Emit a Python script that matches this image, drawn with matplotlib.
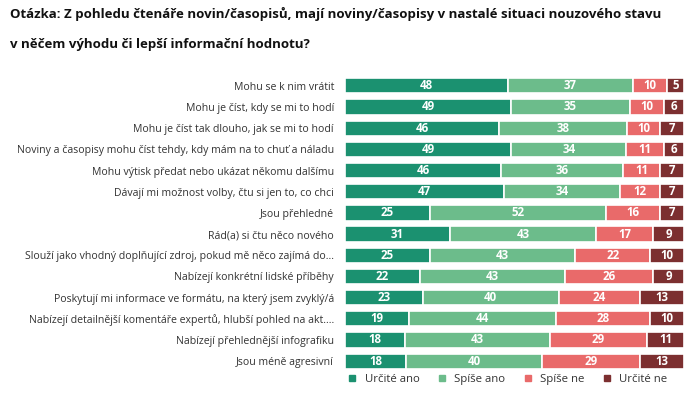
import numpy as np
import matplotlib
matplotlib.use("Agg")
import matplotlib.pyplot as plt
from matplotlib.lines import Line2D

plt.rcParams["font.family"] = ["Open Sans", "DejaVu Sans"]

categories = [
    "Mohu se k nim vrátit",
    "Mohu je číst, kdy se mi to hodí",
    "Mohu je číst tak dlouho, jak se mi to hodí",
    "Noviny a časopisy mohu číst tehdy, kdy mám na to chuť a náladu",
    "Mohu výtisk předat nebo ukázat někomu dalšímu",
    "Dávají mi možnost volby, čtu si jen to, co chci",
    "Jsou přehledné",
    "Rád(a) si čtu něco nového",
    "Slouží jako vhodný doplňující zdroj, pokud mě něco zajímá do...",
    "Nabízejí konkrétní lidské příběhy",
    "Poskytují mi informace ve formátu, na který jsem zvyklý/á",
    "Nabízejí detailnější komentáře expertů, hlubší pohled na akt....",
    "Nabízejí přehlednější infografiku",
    "Jsou méně agresivní",
]
urcite_ano = [48, 49, 46, 49, 46, 47, 25, 31, 25, 22, 23, 19, 18, 18]
spise_ano = [37, 35, 38, 34, 36, 34, 52, 43, 43, 43, 40, 44, 43, 40]
spise_ne = [10, 10, 10, 11, 11, 12, 16, 17, 22, 26, 24, 28, 29, 29]
urcite_ne = [5, 6, 7, 6, 7, 7, 7, 9, 10, 9, 13, 10, 11, 13]

series = ["Určité ano", "Spíše ano", "Spíše ne", "Určité ne"]
colors = ["#1b9170", "#6cbc8b", "#e96a6a", "#7c2f30"]

vals = np.array([urcite_ano, spise_ano, spise_ne, urcite_ne], dtype=float)
shares = vals / vals.sum(axis=0) * 100

fig = plt.figure(figsize=(7, 3.98), dpi=100)
ax = fig.add_axes([0.493, 0.066, 0.484, 0.745])

y = np.arange(len(categories))
left = np.zeros(len(categories))
for i, name in enumerate(series):
    ax.barh(y, shares[i], left=left, height=0.72, color=colors[i],
            edgecolor="white", linewidth=1.2, label=name)
    for j in range(len(categories)):
        ax.text(left[j] + shares[i][j] / 2, y[j], str(int(vals[i][j])),
                ha="center", va="center", color="white", fontsize=8.3,
                fontweight="bold")
    left += shares[i]

ax.set_xlim(0, 100)
ax.set_ylim(len(categories) - 0.5, -0.5)
ax.set_yticks(y)
ax.set_yticklabels(categories, fontsize=7.6, color="#333333")
ax.tick_params(axis="y", length=0, pad=8)
ax.set_xticks([])
for s in ax.spines.values():
    s.set_visible(False)

fig.text(0.014, 0.965, "Otázka: Z pohledu čtenáře novin/časopisů, mají noviny/časopisy v nastalé situaci nouzového stavu",
         fontsize=9.5, fontweight="bold", va="center", color="#111111")
fig.text(0.014, 0.888, "v něčem výhodu či lepší informační hodnotu?",
         fontsize=9.5, fontweight="bold", va="center", color="#111111")

handles = [Line2D([0], [0], marker="s", linestyle="", markersize=4.5,
                  markerfacecolor=c, markeredgecolor=c) for c in colors]
fig.legend(handles, series, loc="center", bbox_to_anchor=(0.72, 0.047),
           ncol=4, frameon=False, fontsize=8.2, handletextpad=0.1,
           columnspacing=0.95, labelcolor="#333333")

fig.savefig("out.png", dpi=100)
